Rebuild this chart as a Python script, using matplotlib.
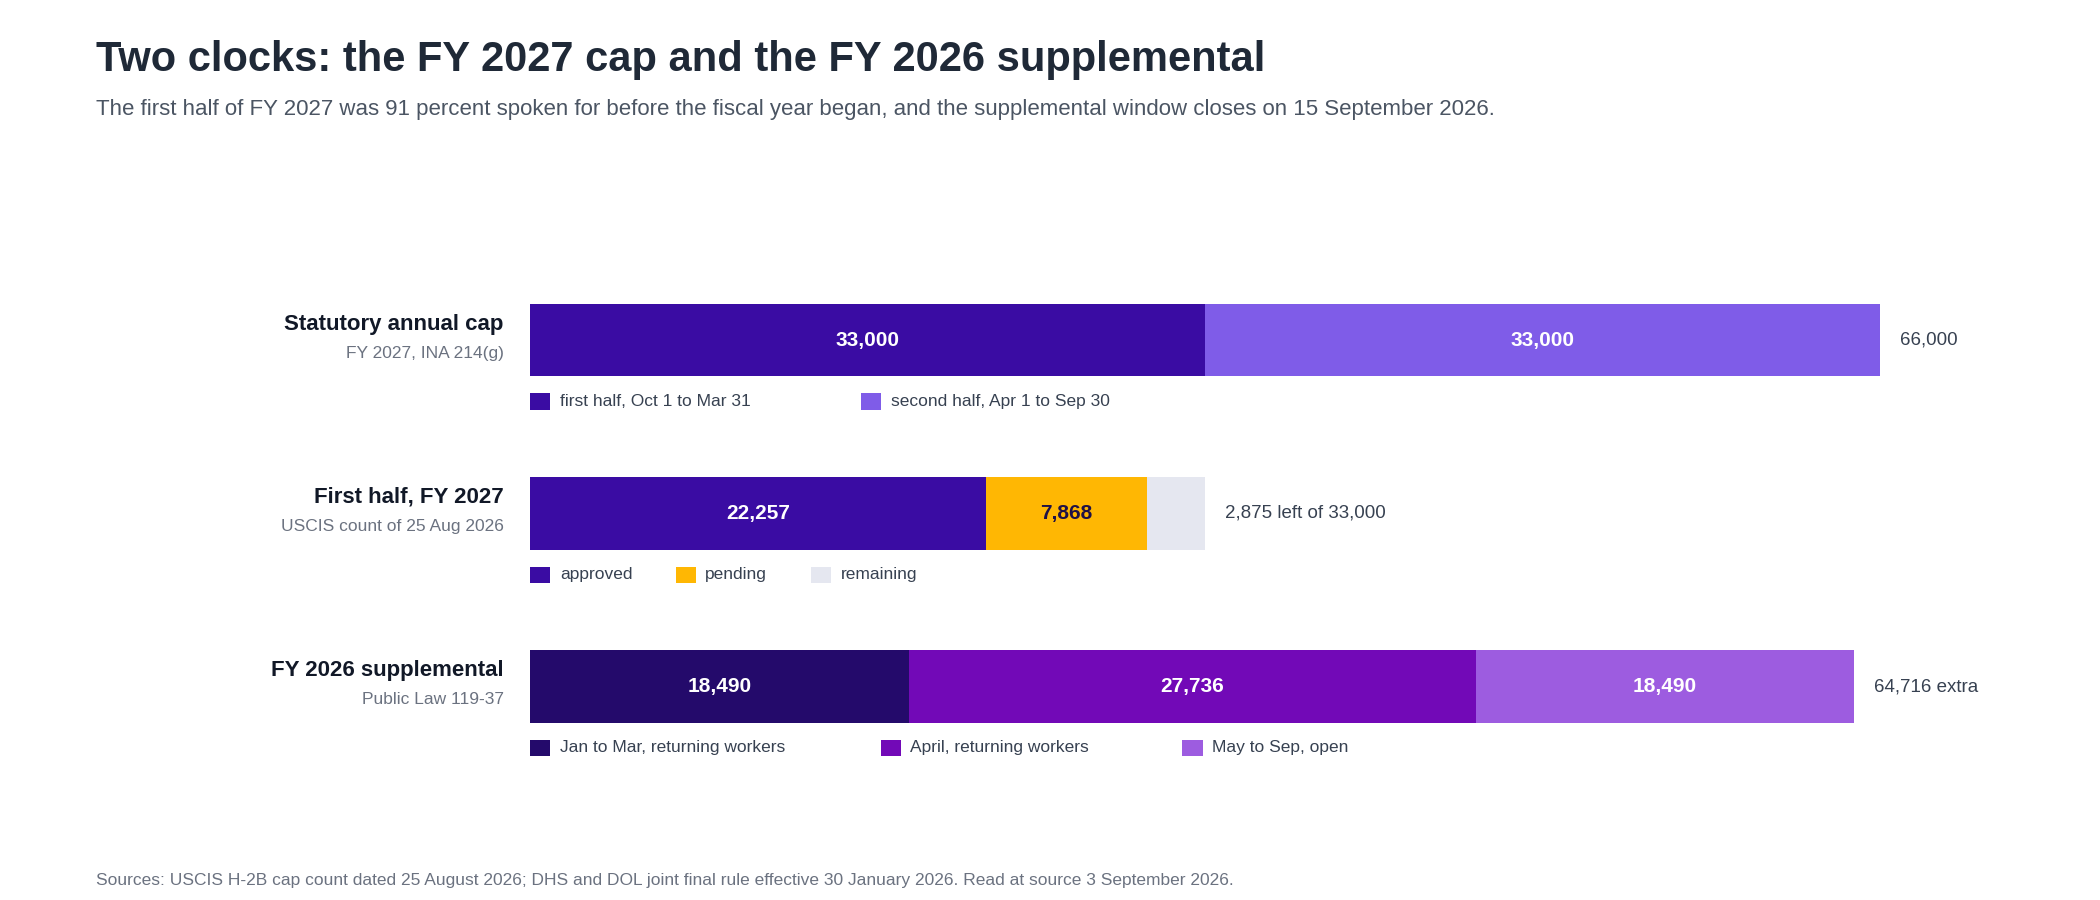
import matplotlib
matplotlib.use("Agg")
import matplotlib.pyplot as plt
from matplotlib.patches import Rectangle

plt.rcParams['font.family'] = ['Liberation Sans', 'DejaVu Sans']

rows = ["Statutory annual cap", "First half, FY 2027", "FY 2026 supplemental"]
subs = ["FY 2027, INA 214(g)", "USCIS count of 25 Aug 2026", "Public Law 119-37"]
segments = [
    [33000, 33000],
    [22257, 7868, 2875],
    [18490, 27736, 18490],
]
seg_labels = [
    ["first half, Oct 1 to Mar 31", "second half, Apr 1 to Sep 30"],
    ["approved", "pending", "remaining"],
    ["Jan to Mar, returning workers", "April, returning workers", "May to Sep, open"],
]
seg_colors = [
    ["#3a0ca3", "#7f5ce8"],
    ["#3a0ca3", "#ffb703", "#e5e7f0"],
    ["#240a6b", "#7209b7", "#9d5ce0"],
]
show_value = [[True, True], [True, True, False], [True, True, True]]
value_color = [["white", "white"], ["white", "#1f1147", None], ["white", "white", "white"]]
end_labels = ["66,000", "2,875 left of 33,000", "64,716 extra"]

W, H = 1568, 660
fig = plt.figure(figsize=(21, 9), dpi=100)
ax = fig.add_axes([396 / W, 0, 1008 / W, 1])
ax.set_xlim(0, 66000)
ax.set_ylim(H, 0)
ax.axis("off")

centers = [249.5, 376.5, 503.5]
bh = 53
px = 66000 / 1008  # data per px
for i, (segs, cols) in enumerate(zip(segments, seg_colors)):
    left = 0
    for j, (v, c) in enumerate(zip(segs, cols)):
        ax.barh(centers[i], v, left=left, height=bh, color=c, edgecolor="none")
        if show_value[i][j]:
            ax.text(left + v / 2, centers[i], f"{v:,}", ha="center", va="center",
                    color=value_color[i][j], fontsize=15, fontweight="bold")
        left += v
    ax.text(left + 15 * px, centers[i], end_labels[i], ha="left", va="center",
            color="#374151", fontsize=13.5)
    # left labels
    fig.text(376 / W, 1 - (centers[i] - 4) / H, rows[i], ha="right", va="bottom",
             fontsize=16, fontweight="bold", color="#111827")
    fig.text(376 / W, 1 - (centers[i] + 4) / H, subs[i], ha="right", va="top",
             fontsize=12.5, color="#6b7280")
    # legend
    ly = centers[i] + 45
    x = 0
    for lab, c in zip(seg_labels[i], cols):
        ax.add_patch(Rectangle((x, ly - 6), 15 * px, 12, color=c, lw=0))
        t = ax.text(x + 22 * px, ly, lab, ha="left", va="center", fontsize=12.5, color="#374151")
        x += (22 + len(lab) * 7.3 + 28) * px

fig.text(72 / W, 1 - 44 / H, "Two clocks: the FY 2027 cap and the FY 2026 supplemental",
         ha="left", va="center", fontsize=30, fontweight="bold", color="#1f2937")
fig.text(72 / W, 1 - 80 / H,
         "The first half of FY 2027 was 91 percent spoken for before the fiscal year began, and the supplemental window closes on 15 September 2026.",
         ha="left", va="center", fontsize=16, color="#4b5563")
fig.text(72 / W, 1 - 646 / H,
         "Sources: USCIS H-2B cap count dated 25 August 2026; DHS and DOL joint final rule effective 30 January 2026. Read at source 3 September 2026.",
         ha="left", va="center", fontsize=12.5, color="#6b7280")

fig.savefig("out.png", dpi=100, facecolor="white")
